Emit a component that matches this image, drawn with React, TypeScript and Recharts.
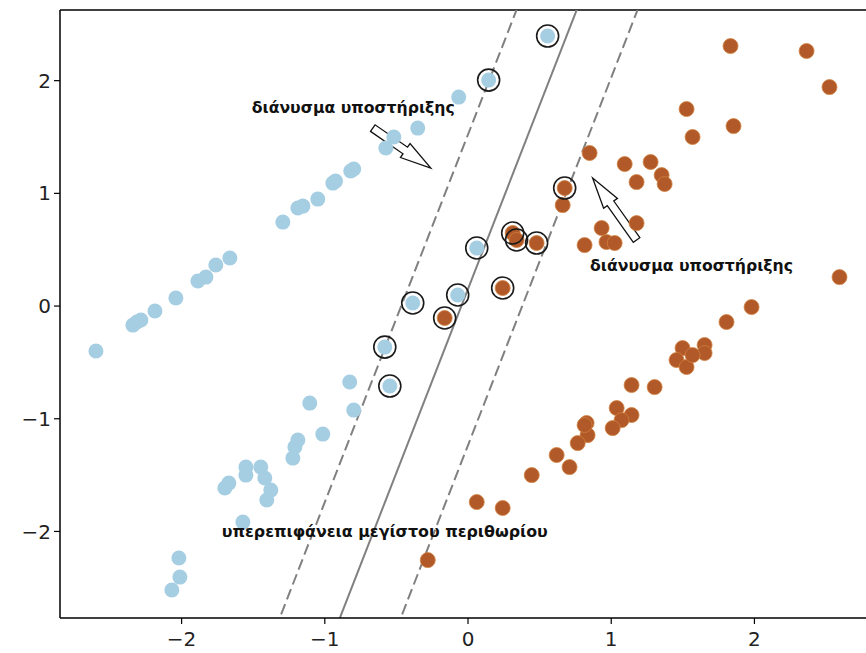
import { ScatterChart, Scatter, XAxis, YAxis, ReferenceLine, ReferenceDot } from 'recharts'

type Pt = { x: number; y: number }

// class 0 samples (light blue)
const classA: Pt[] = [
  { x: -2.598, y: -0.399 }, { x: -2.340, y: -0.169 }, { x: -2.312, y: -0.142 }, { x: -2.284, y: -0.124 },
  { x: -2.186, y: -0.044 }, { x: -2.040, y: 0.071 }, { x: -1.886, y: 0.222 }, { x: -1.830, y: 0.257 },
  { x: -1.761, y: 0.364 }, { x: -1.663, y: 0.426 }, { x: -1.293, y: 0.745 }, { x: -1.188, y: 0.870 },
  { x: -1.153, y: 0.887 }, { x: -1.049, y: 0.949 }, { x: -0.944, y: 1.091 }, { x: -0.925, y: 1.109 },
  { x: -0.819, y: 1.198 }, { x: -0.798, y: 1.216 }, { x: -0.574, y: 1.402 }, { x: -0.518, y: 1.500 },
  { x: -0.351, y: 1.579 }, { x: -0.065, y: 1.854 },
  { x: 0.556, y: 2.396 }, { x: 0.144, y: 2.005 }, { x: 0.061, y: 0.515 }, { x: -0.072, y: 0.098 },
  { x: -0.386, y: 0.027 }, { x: -0.581, y: -0.364 }, { x: -0.546, y: -0.710 },
  { x: -2.068, y: -2.520 }, { x: -2.012, y: -2.405 }, { x: -2.019, y: -2.236 }, { x: -1.572, y: -1.917 },
  { x: -1.698, y: -1.615 }, { x: -1.670, y: -1.571 }, { x: -1.551, y: -1.500 }, { x: -1.551, y: -1.429 },
  { x: -1.447, y: -1.429 }, { x: -1.419, y: -1.526 }, { x: -1.377, y: -1.633 }, { x: -1.405, y: -1.721 },
  { x: -1.223, y: -1.349 }, { x: -1.209, y: -1.251 }, { x: -1.188, y: -1.189 }, { x: -1.014, y: -1.136 },
  { x: -1.105, y: -0.861 }, { x: -0.798, y: -0.923 }, { x: -0.826, y: -0.674 },
]

// class 1 samples (brown)
const classB: Pt[] = [
  { x: 1.833, y: 2.307 }, { x: 2.364, y: 2.263 }, { x: 2.524, y: 1.943 }, { x: 1.526, y: 1.748 },
  { x: 1.854, y: 1.597 }, { x: 1.568, y: 1.500 }, { x: 0.849, y: 1.358 }, { x: 1.094, y: 1.260 },
  { x: 1.275, y: 1.278 }, { x: 1.352, y: 1.162 }, { x: 1.373, y: 1.083 }, { x: 1.177, y: 1.100 },
  { x: 1.177, y: 0.736 }, { x: 0.933, y: 0.692 }, { x: 0.967, y: 0.568 }, { x: 1.024, y: 0.559 },
  { x: 0.814, y: 0.541 }, { x: 2.594, y: 0.257 }, { x: 1.980, y: -0.009 }, { x: 1.805, y: -0.142 },
  { x: 0.661, y: 0.896 },
  { x: 0.675, y: 1.047 }, { x: 0.312, y: 0.648 }, { x: 0.339, y: 0.586 }, { x: 0.479, y: 0.559 },
  { x: 0.242, y: 0.160 }, { x: -0.163, y: -0.106 },
  { x: 0.828, y: -1.038 }, { x: 0.835, y: -1.145 }, { x: 0.766, y: -1.216 }, { x: 0.619, y: -1.322 },
  { x: 0.709, y: -1.429 }, { x: 0.445, y: -1.500 }, { x: 0.061, y: -1.739 }, { x: 0.242, y: -1.792 },
  { x: -0.281, y: -2.254 }, { x: 1.652, y: -0.346 }, { x: 1.652, y: -0.417 }, { x: 1.498, y: -0.373 },
  { x: 1.456, y: -0.479 }, { x: 1.526, y: -0.541 }, { x: 1.568, y: -0.435 }, { x: 1.142, y: -0.701 },
  { x: 1.303, y: -0.719 }, { x: 1.038, y: -0.905 }, { x: 1.142, y: -0.967 }, { x: 1.072, y: -1.012 },
  { x: 1.010, y: -1.083 }, { x: 0.814, y: -1.056 },
]

const supportVectors: Pt[] = [
  { x: 0.556, y: 2.396 }, { x: 0.144, y: 2.005 }, { x: 0.061, y: 0.515 }, { x: -0.072, y: 0.098 },
  { x: -0.386, y: 0.027 }, { x: -0.581, y: -0.364 }, { x: -0.546, y: -0.710 },
  { x: 0.675, y: 1.047 }, { x: 0.312, y: 0.648 }, { x: 0.339, y: 0.586 }, { x: 0.479, y: 0.559 },
  { x: 0.242, y: 0.160 }, { x: -0.163, y: -0.106 },
]

// decision boundary and margins, as segments
const boundary: [Pt, Pt] = [{ x: -0.966, y: -3 }, { x: 0.873, y: 3 }]
const marginLeft: [Pt, Pt] = [{ x: -1.386, y: -3 }, { x: 0.453, y: 3 }]
const marginRight: [Pt, Pt] = [{ x: -0.541, y: -3 }, { x: 1.298, y: 3 }]

// annotation arrows: tail -> tip
const arrowUpper: [Pt, Pt] = [{ x: -0.665, y: 1.579 }, { x: -0.260, y: 1.224 }]
const arrowLower: [Pt, Pt] = [{ x: 1.177, y: 0.586 }, { x: 0.870, y: 1.136 }]

const notes = [
  { x: -0.801, y: 1.713, text: 'διάνυσμα υποστήριξης', w: 203 },
  { x: 1.561, y: 0.311, text: 'διάνυσμα υποστήριξης', w: 203 },
  { x: -0.581, y: -2.05, text: 'υπερεπιφάνεια μεγίστου περιθωρίου', w: 326 },
]

const xDomain = [-2.849, 2.779]
const yDomain = [-2.768, 2.627]
const ticks = [-2, -1, 0, 1, 2]

const BLUE = '#a6cee3'
const BROWN = '#b15928'
const LINE = '#808080'
const fmt = (v: number) => String(v).replace('-', '\u2212')
const tickFont = { fill: '#222', fontSize: 20, fontFamily: 'DejaVu Sans' }

const Arrow = (p: any) => {
  const { x1, y1, x2, y2 } = p
  if ([x1, y1, x2, y2].some((v) => typeof v !== 'number' || isNaN(v))) return <g />
  const dx = x2 - x1
  const dy = y2 - y1
  const len = Math.hypot(dx, dy)
  const ux = dx / len
  const uy = dy / len
  const nx = -uy
  const ny = ux
  const bw = 4
  const hw = 8.5
  const hl = 31
  const bx = x2 - ux * hl
  const by = y2 - uy * hl
  const pts = [
    [x1 + nx * bw, y1 + ny * bw],
    [bx + nx * bw, by + ny * bw],
    [bx + nx * hw, by + ny * hw],
    [x2, y2],
    [bx - nx * hw, by - ny * hw],
    [bx - nx * bw, by - ny * bw],
    [x1 - nx * bw, y1 - ny * bw],
  ]
  return (
    <polygon
      points={pts.map((q) => q.join(',')).join(' ')}
      fill="#fff"
      stroke="#111"
      strokeWidth={1.3}
      strokeLinejoin="miter"
    />
  )
}

export default function App() {
  return (
    <div style={{ position: 'absolute', left: 0, top: 0, width: 866, height: 653, background: '#fff', overflow: 'hidden' }}>
      <ScatterChart width={866} height={653} margin={{ top: 10, right: 0, bottom: 0, left: 0 }}>
        <XAxis
          type="number"
          dataKey="x"
          domain={xDomain}
          allowDataOverflow
          ticks={ticks}
          tickFormatter={fmt}
          height={35}
          tickSize={6}
          tickMargin={8}
          axisLine={{ stroke: '#000', strokeWidth: 1.5 }}
          tickLine={{ stroke: '#000', strokeWidth: 1.2 }}
          tick={tickFont}
        />
        <YAxis
          type="number"
          dataKey="y"
          domain={yDomain}
          allowDataOverflow
          ticks={ticks}
          tickFormatter={fmt}
          width={60}
          tickSize={6}
          tickMargin={3}
          axisLine={{ stroke: '#000', strokeWidth: 1.5 }}
          tickLine={{ stroke: '#000', strokeWidth: 1.2 }}
          tick={tickFont}
        />
        <ReferenceLine y={yDomain[1]} stroke="#000" strokeWidth={1.5} />
        <Scatter
          data={classA}
          isAnimationActive={false}
          shape={(p: any) => <circle cx={p.cx} cy={p.cy} r={7.5} fill={BLUE} />}
        />
        <Scatter
          data={classB}
          isAnimationActive={false}
          shape={(p: any) => <circle cx={p.cx} cy={p.cy} r={7.5} fill={BROWN} stroke="#d0803f" strokeWidth={0.8} />}
        />
        <ReferenceLine segment={boundary} ifOverflow="hidden" stroke={LINE} strokeWidth={2} />
        <ReferenceLine segment={marginLeft} ifOverflow="hidden" stroke={LINE} strokeWidth={2} strokeDasharray="11 5" />
        <ReferenceLine segment={marginRight} ifOverflow="hidden" stroke={LINE} strokeWidth={2} strokeDasharray="11 5" />
        <Scatter
          data={supportVectors}
          isAnimationActive={false}
          shape={(p: any) => <circle cx={p.cx} cy={p.cy} r={11} fill="none" stroke="#1a1a1a" strokeWidth={1.6} />}
        />
        <ReferenceLine segment={arrowUpper} ifOverflow="visible" shape={Arrow} />
        <ReferenceLine segment={arrowLower} ifOverflow="visible" shape={Arrow} />
        {notes.map((n, i) => (
          <ReferenceDot
            key={i}
            x={n.x}
            y={n.y}
            ifOverflow="visible"
            shape={(p: any) => (
              <text
                x={p.cx}
                y={p.cy}
                textAnchor="middle"
                fontFamily="DejaVu Sans"
                fontWeight="bold"
                fontSize={15}
                fill="#111"
                textLength={n.w}
                lengthAdjust="spacingAndGlyphs"
              >
                {n.text}
              </text>
            )}
          />
        ))}
      </ScatterChart>
    </div>
  )
}
